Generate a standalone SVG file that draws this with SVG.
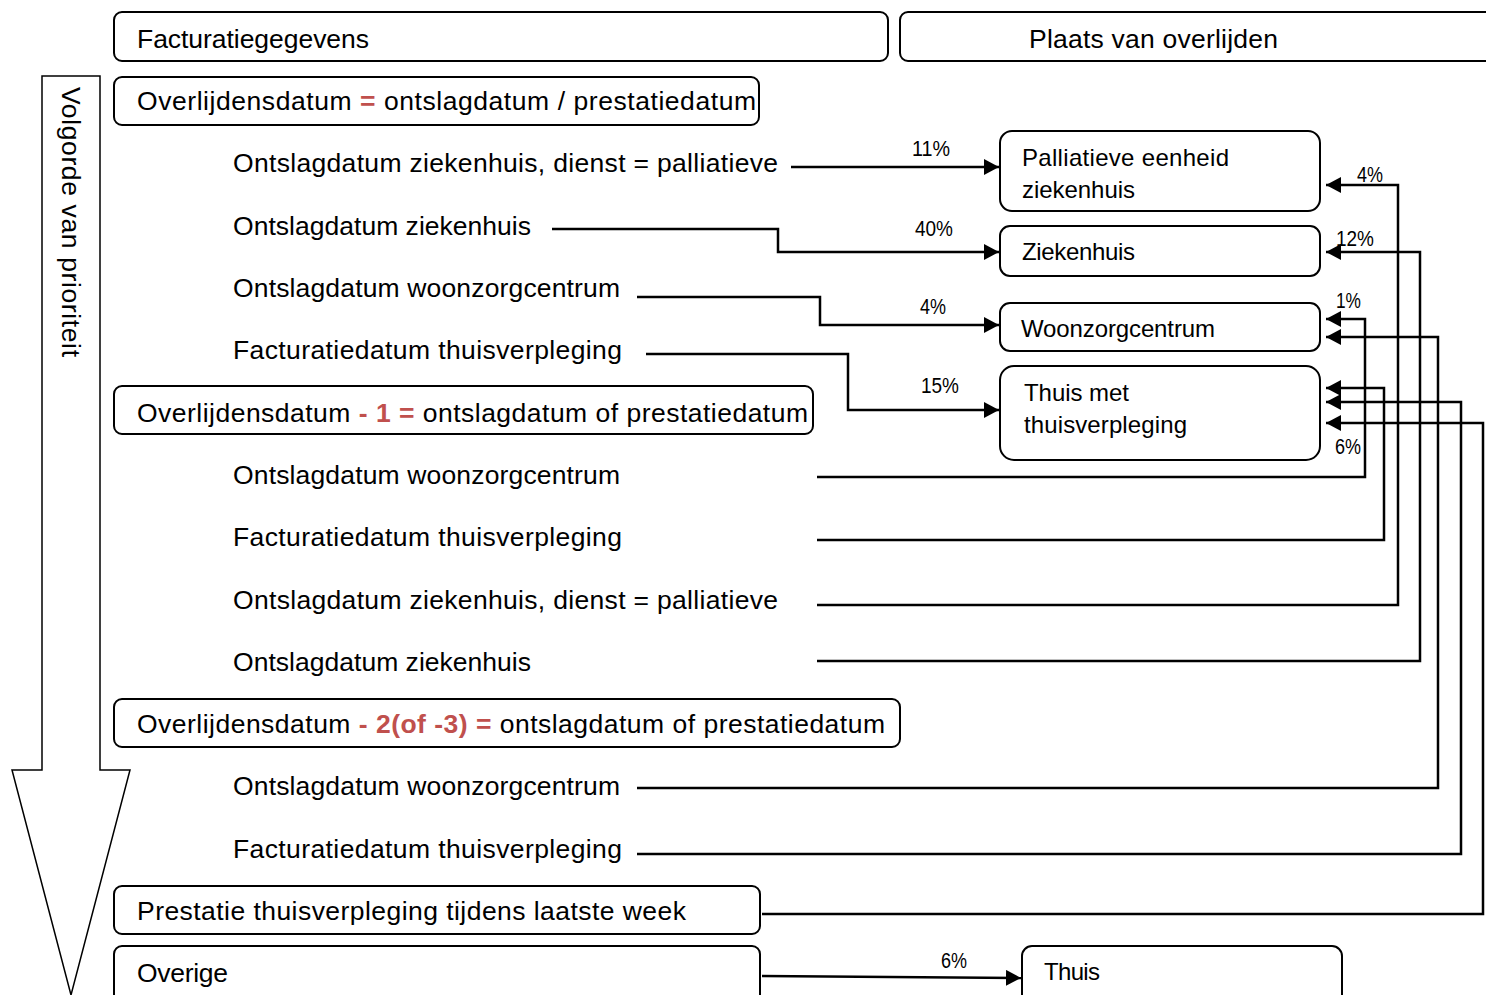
<svg xmlns="http://www.w3.org/2000/svg" width="1486" height="995" viewBox="0 0 1486 995">
<defs>
<style>
.box{fill:#fff;stroke:#000;stroke-width:2}
.t{font-family:"Liberation Sans",Arial,sans-serif;font-size:26.5px;fill:#000}
.bt{font-family:"Liberation Sans",Arial,sans-serif;font-size:24px;fill:#000}
.p{font-family:"Liberation Sans",Arial,sans-serif;font-size:22px;fill:#000}
.red{fill:#c0504d;font-weight:bold}
.c{fill:none;stroke:#000;stroke-width:2.5}
</style>
<marker id="ah" markerUnits="userSpaceOnUse" markerWidth="16" markerHeight="18" refX="15" refY="8" orient="auto">
<path d="M0,0 L15,8 L0,16 Z" fill="#000"/>
</marker>
</defs>
<rect width="1486" height="995" fill="#fff"/>

<g id="priority-arrow">
<path d="M42,76 H100 V770 H130 L71,995 L12,770 H42 Z" fill="#fff" stroke="#000" stroke-width="1.5"/>
<text class="t" transform="translate(62,87) rotate(90)" textLength="270">Volgorde van prioriteit</text>
</g>

<g id="facturatiegegevens">
<rect class="box" x="114" y="12" width="774" height="49" rx="8"/>
<text class="t" x="137" y="48" textLength="232">Facturatiegegevens</text>
</g>
<g id="plaats-van-overlijden">
<rect class="box" x="900" y="12" width="620" height="49" rx="8"/>
<text class="t" x="1029" y="48" textLength="249">Plaats van overlijden</text>
</g>

<g id="overlijdensdatum-0">
<rect class="box" x="114" y="77" width="645" height="48" rx="8"/>
<text class="t" x="137" y="110" textLength="619">Overlijdensdatum <tspan class="red">=</tspan> ontslagdatum / prestatiedatum</text>
</g>
<g id="r1"><text class="t" x="233" y="172" textLength="545">Ontslagdatum ziekenhuis, dienst = palliatieve</text></g>
<g id="r2"><text class="t" x="233" y="235" textLength="298">Ontslagdatum ziekenhuis</text></g>
<g id="r3"><text class="t" x="233" y="297" textLength="387">Ontslagdatum woonzorgcentrum</text></g>
<g id="r4"><text class="t" x="233" y="359" textLength="389">Facturatiedatum thuisverpleging</text></g>

<g id="overlijdensdatum-1">
<rect class="box" x="114" y="386" width="699" height="48" rx="8"/>
<text class="t" x="137" y="422" textLength="671">Overlijdensdatum <tspan class="red">- 1 =</tspan> ontslagdatum of prestatiedatum</text>
</g>
<g id="r5"><text class="t" x="233" y="484" textLength="387">Ontslagdatum woonzorgcentrum</text></g>
<g id="r6"><text class="t" x="233" y="546" textLength="389">Facturatiedatum thuisverpleging</text></g>
<g id="r7"><text class="t" x="233" y="609" textLength="545">Ontslagdatum ziekenhuis, dienst = palliatieve</text></g>
<g id="r8"><text class="t" x="233" y="671" textLength="298">Ontslagdatum ziekenhuis</text></g>

<g id="overlijdensdatum-2">
<rect class="box" x="114" y="699" width="786" height="48" rx="8"/>
<text class="t" x="137" y="733" textLength="748">Overlijdensdatum <tspan class="red">- 2(of -3) =</tspan> ontslagdatum of prestatiedatum</text>
</g>
<g id="r9"><text class="t" x="233" y="795" textLength="387">Ontslagdatum woonzorgcentrum</text></g>
<g id="r10"><text class="t" x="233" y="858" textLength="389">Facturatiedatum thuisverpleging</text></g>

<g id="prestatie">
<rect class="box" x="114" y="886" width="646" height="48" rx="8"/>
<text class="t" x="137" y="920" textLength="549">Prestatie thuisverpleging tijdens laatste week</text>
</g>
<g id="overige">
<rect class="box" x="114" y="946" width="646" height="60" rx="8"/>
<text class="t" x="137" y="982" textLength="91">Overige</text>
</g>

<g id="palliatieve-eenheid">
<rect class="box" x="1000" y="131" width="320" height="80" rx="12"/>
<text class="bt" x="1022" y="166" textLength="207">Palliatieve eenheid</text>
<text class="bt" x="1022" y="198" textLength="113">ziekenhuis</text>
</g>
<g id="ziekenhuis">
<rect class="box" x="1000" y="226" width="320" height="50" rx="10"/>
<text class="bt" x="1022" y="260" textLength="113">Ziekenhuis</text>
</g>
<g id="woonzorgcentrum">
<rect class="box" x="1000" y="303" width="320" height="48" rx="10"/>
<text class="bt" x="1021" y="337" textLength="194">Woonzorgcentrum</text>
</g>
<g id="thuis-met-thuisverpleging">
<rect class="box" x="1000" y="366" width="320" height="94" rx="14"/>
<text class="bt" x="1024" y="401" textLength="105">Thuis met</text>
<text class="bt" x="1024" y="433" textLength="163">thuisverpleging</text>
</g>
<g id="thuis">
<rect class="box" x="1022" y="946" width="320" height="60" rx="10"/>
<text class="bt" x="1044" y="980" textLength="56">Thuis</text>
</g>

<g id="connectors">
<path class="c" marker-end="url(#ah)" d="M791,167 H999"/>
<path class="c" marker-end="url(#ah)" d="M552,229 H778 V252 H999"/>
<path class="c" marker-end="url(#ah)" d="M637,297 H820 V325 H999"/>
<path class="c" marker-end="url(#ah)" d="M646,354 H848 V410 H999"/>
<path class="c" marker-end="url(#ah)" d="M762,976 L1021,978"/>

<path class="c" marker-end="url(#ah)" d="M817,477 H1365 V319 H1326"/>
<path class="c" marker-end="url(#ah)" d="M817,540 H1384 V388 H1326"/>
<path class="c" marker-end="url(#ah)" d="M817,605 H1398 V185 H1326"/>
<path class="c" marker-end="url(#ah)" d="M817,661 H1420 V252 H1326"/>
<path class="c" marker-end="url(#ah)" d="M637,788 H1438 V337 H1326"/>
<path class="c" marker-end="url(#ah)" d="M637,854 H1461 V402 H1326"/>
<path class="c" marker-end="url(#ah)" d="M762,914 H1483 V423 H1326"/>

<text class="p" x="912" y="156" textLength="38" lengthAdjust="spacingAndGlyphs">11%</text>
<text class="p" x="915" y="236" textLength="38" lengthAdjust="spacingAndGlyphs">40%</text>
<text class="p" x="920" y="314" textLength="26" lengthAdjust="spacingAndGlyphs">4%</text>
<text class="p" x="921" y="393" textLength="38" lengthAdjust="spacingAndGlyphs">15%</text>
<text class="p" x="1357" y="182" textLength="26" lengthAdjust="spacingAndGlyphs">4%</text>
<text class="p" x="1336" y="246" textLength="38" lengthAdjust="spacingAndGlyphs">12%</text>
<text class="p" x="1336" y="308" textLength="25" lengthAdjust="spacingAndGlyphs">1%</text>
<text class="p" x="1335" y="454" textLength="26" lengthAdjust="spacingAndGlyphs">6%</text>
<text class="p" x="941" y="968" textLength="26" lengthAdjust="spacingAndGlyphs">6%</text>
</g>
</svg>
